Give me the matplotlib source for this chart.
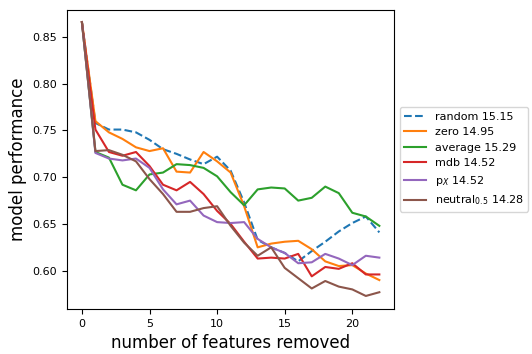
import numpy as np
import matplotlib
matplotlib.use("Agg")
import matplotlib.pyplot as plt

n_removed = list(range(23))

random_vals = [0.866, 0.758, 0.751, 0.751, 0.748, 0.740, 0.730, 0.725, 0.719, 0.714, 0.722, 0.707,
               0.673, 0.633, 0.625, 0.619, 0.610, 0.621, 0.631, 0.642, 0.651, 0.658, 0.641]
zero_vals = [0.866, 0.760, 0.748, 0.741, 0.732, 0.728, 0.731, 0.706, 0.705, 0.727, 0.717, 0.705,
             0.669, 0.625, 0.629, 0.631, 0.632, 0.623, 0.610, 0.605, 0.606, 0.597, 0.590]
average_vals = [0.866, 0.727, 0.721, 0.692, 0.686, 0.703, 0.705, 0.714, 0.713, 0.710, 0.701, 0.684,
                0.670, 0.687, 0.689, 0.688, 0.675, 0.678, 0.690, 0.683, 0.662, 0.658, 0.648]
mdb_vals = [0.866, 0.751, 0.727, 0.723, 0.727, 0.712, 0.692, 0.686, 0.695, 0.682, 0.664, 0.650,
            0.631, 0.613, 0.614, 0.613, 0.618, 0.594, 0.604, 0.602, 0.608, 0.596, 0.596]
px_vals = [0.866, 0.726, 0.720, 0.718, 0.720, 0.710, 0.687, 0.671, 0.675, 0.659, 0.652, 0.651,
           0.652, 0.634, 0.625, 0.619, 0.608, 0.609, 0.618, 0.613, 0.606, 0.616, 0.614]
neutral_vals = [0.866, 0.728, 0.729, 0.724, 0.717, 0.698, 0.682, 0.663, 0.663, 0.667, 0.669, 0.648,
                0.630, 0.616, 0.625, 0.603, 0.592, 0.581, 0.589, 0.583, 0.580, 0.573, 0.577]

labels = ['random 15.15', 'zero 14.95', 'average 15.29', 'mdb 14.52',
          r'$\mathrm{p}_X$ 14.52', r'neutral$_{0.5}$ 14.28']

fig = plt.figure(figsize=(5.32, 3.54), dpi=100)
# axes box placed to match the reference (px: left 67, right 394, top 10, bottom 309)
ax = fig.add_axes([0.126, 0.127, 0.615, 0.845])

ax.plot(n_removed, random_vals, '--', color='tab:blue', lw=1.5, label=labels[0])
ax.plot(n_removed, zero_vals, color='tab:orange', lw=1.5, label=labels[1])
ax.plot(n_removed, average_vals, color='tab:green', lw=1.5, label=labels[2])
ax.plot(n_removed, mdb_vals, color='tab:red', lw=1.5, label=labels[3])
ax.plot(n_removed, px_vals, color='tab:purple', lw=1.5, label=labels[4])
ax.plot(n_removed, neutral_vals, color='tab:brown', lw=1.5, label=labels[5])

ax.set_xlim(-1.1, 23.1)
ax.set_ylim(0.559, 0.879)
ax.set_xticks([0, 5, 10, 15, 20])
ax.set_yticks([0.60, 0.65, 0.70, 0.75, 0.80, 0.85])
ax.tick_params(labelsize=8)
ax.set_xlabel('number of features removed', fontsize=12)
ax.set_ylabel('model performance', fontsize=12)
ax.legend(loc='center left', bbox_to_anchor=(1.0, 0.5), fontsize=8)

fig.savefig('out.png', dpi=100)
